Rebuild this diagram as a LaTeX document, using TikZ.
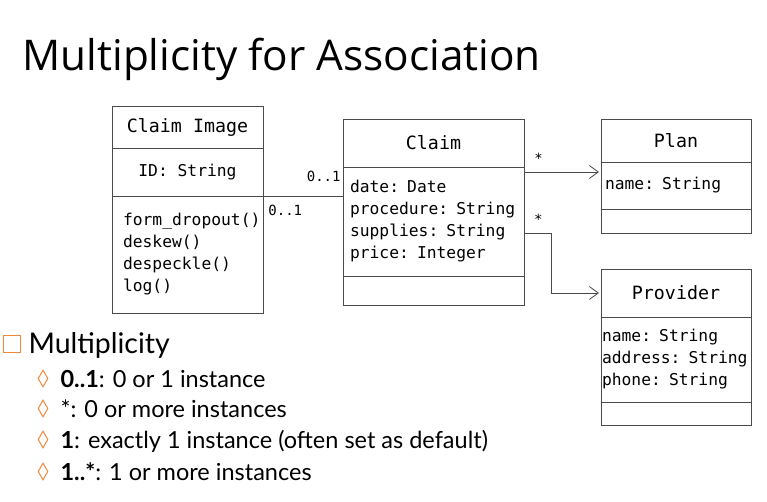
\documentclass[tikz,border=0pt]{standalone}
\usepackage{fontspec}
\setmainfont{Lato}
\setmonofont{DejaVu Sans Mono}
\newfontfamily\titlefont{Open Sans}
\usetikzlibrary{arrows.meta,positioning,shapes.geometric}
\definecolor{umlline}{HTML}{4A4A4A}
\definecolor{bulletorange}{HTML}{EE8A3F}

\begin{document}
\begin{tikzpicture}[x=1pt,y=-1pt,
 part/.style={draw=umlline,line width=.8pt,inner sep=0pt,outer sep=0pt,align=left,
  font=\ttfamily\fontsize{16.3}{22}\selectfont},
 head/.style={part,align=center,font=\ttfamily\fontsize{18.3}{22}\selectfont},
 assoc/.style={draw=umlline,line width=.8pt},
 nav/.style={assoc,-{Straight Barb[length=9pt,width=13pt]},shorten >=2pt},
 mult/.style={inner sep=1pt,font=\ttfamily\fontsize{14}{16}\selectfont},
 lvlone/.style={anchor=base west,font=\fontsize{28.5}{32}\selectfont},
 lvltwo/.style={anchor=base west,font=\fontsize{23.5}{27}\selectfont},
 sqmark/.style={draw=bulletorange,line width=1.2pt,minimum size=17pt,inner sep=0pt},
 dmmark/.style={diamond,draw=bulletorange,line width=1pt,minimum width=10pt,minimum height=17pt,inner sep=0pt}]

\useasboundingbox (0,0) rectangle (767,502);

\node[anchor=base west,font=\titlefont\fontsize{42.3}{48}\selectfont] (title) at (19,71) {Multiplicity for Association};

% Claim Image
\node[head,minimum width=151,minimum height=42] (imgHead) at (187.5,127) {Claim Image};
\node[part,align=center,minimum width=151,minimum height=48,below=0pt of imgHead] (imgAttr) {ID: String};
\node[part,text width=129pt,inner xsep=11pt,minimum height=117,below=0pt of imgAttr] (imgOps) {form\_dropout()\\deskew()\\despeckle()\\log()};

% Claim
\node[head,minimum width=181,minimum height=48] (claimHead) at (433.5,143) {Claim};
\node[part,text width=167pt,inner xsep=7pt,minimum height=109,below=0pt of claimHead] (claimAttr) {date: Date\\procedure: String\\supplies: String\\price: Integer};
\node[part,minimum width=181,minimum height=29,below=0pt of claimAttr] (claimOps) {};

% Plan
\node[head,minimum width=150,minimum height=43] (planHead) at (676,140.5) {Plan};
\node[part,text width=142pt,inner xsep=4pt,minimum height=47,below=0pt of planHead] (planAttr) {name: String};
\node[part,minimum width=150,minimum height=24,below=0pt of planAttr] (planOps) {};

% Provider
\node[head,minimum width=150,minimum height=48] (provHead) at (676,293) {Provider};
\node[part,text width=148pt,inner xsep=1pt,minimum height=85,below=0pt of provHead] (provAttr) {name: String\\address: String\\phone: String};
\node[part,minimum width=150,minimum height=23,below=0pt of provAttr] (provOps) {};

% associations
\draw[assoc] (imgOps.north east) -- (imgOps.north east -| claimAttr.west)
 node[mult,pos=0,anchor=north west,xshift=4pt,yshift=-8pt] (imgMult) {0..1}
 node[mult,pos=1,anchor=south east,xshift=-1pt,yshift=13pt] (claimMult) {0..1};
\path (claimAttr.north east) ++(0,5) coordinate (toPlan);
\path (claimAttr.north east) ++(0,66) coordinate (toProv);
\draw[nav] (toPlan) -- (toPlan -| planAttr.west)
 node[mult,pos=0,anchor=south west,xshift=9pt,yshift=7pt] (planMult) {*};
\draw[nav] (toProv) -- ++(27,0) |- (provHead.west);
\node[mult,anchor=south west,xshift=9pt,yshift=7pt] (provMult) at (toProv) {*};

% multiplicity notes
\node[sqmark] (sqOne) at (12,344) {};
\node[lvlone] (noteHead) at (25,353) {Multiplicity};
\node[dmmark] (dmA) at (43,378.5) {};
\node[lvltwo] (noteA) at (57,387) {\textbf{0..1}: 0 or 1 instance};
\node[dmmark] (dmB) at (43,408.5) {};
\node[lvltwo] (noteB) at (57,417) {*: 0 or more instances};
\node[dmmark] (dmC) at (43,439.5) {};
\node[lvltwo] (noteC) at (57,448) {\textbf{1}: exactly 1 instance (often set as default)};
\node[dmmark] (dmD) at (43,471.5) {};
\node[lvltwo] (noteD) at (57,480) {\textbf{1..*}: 1 or more instances};
\end{tikzpicture}
\end{document}
